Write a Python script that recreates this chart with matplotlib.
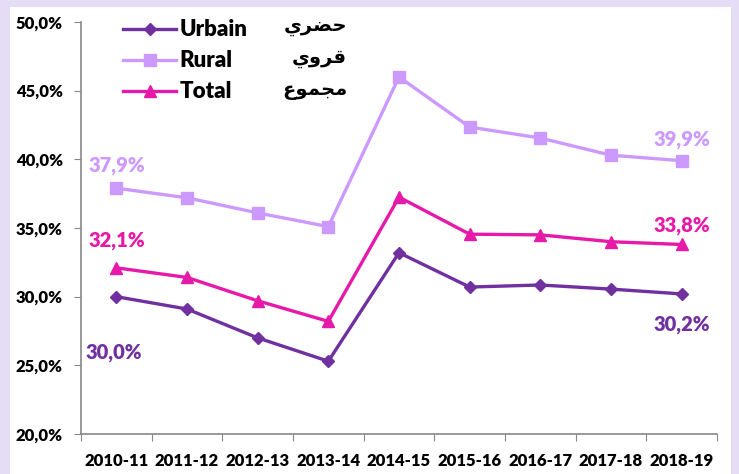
import matplotlib
matplotlib.use('Agg')
import matplotlib.pyplot as plt
from matplotlib.patches import Rectangle
from matplotlib.ticker import FuncFormatter, FixedLocator

years = ['2010-11', '2011-12', '2012-13', '2013-14', '2014-15',
         '2015-16', '2016-17', '2017-18', '2018-19']
urbain = [30.0, 29.1, 27.0, 25.3, 33.2, 30.7, 30.85, 30.55, 30.2]
rural = [37.9, 37.2, 36.1, 35.1, 46.0, 42.35, 41.55, 40.3, 39.9]
total = [32.1, 31.4, 29.7, 28.2, 37.25, 34.55, 34.5, 34.0, 33.8]

# arabic labels, pre-shaped (presentation forms, visual order)
ar_urbain = '\uFEF1\uFEAE\uFEC0\uFEA3'   # حضري
ar_rural = '\uFEF1\uFEED\uFEAE\uFED7'    # قروي
ar_total = '\uFEC9\uFEEE\uFEE4\uFEA0\uFEE3'  # مجموع

c_urb = '#7030a0'
c_rur = '#cc99ff'
c_tot = '#e619a8'

WT = 'heavy'
plt.rcParams['font.family'] = ['Lato', 'DejaVu Sans']
plt.rcParams['font.weight'] = WT

W, H = 739, 474
fig = plt.figure(figsize=(W / 100, H / 100), dpi=100)
fig.patch.set_facecolor('#e5dcf5')
fig.patches.append(Rectangle((10 / W, 0), 721 / W, 467 / H, transform=fig.transFigure,
                             facecolor='white', edgecolor='none', zorder=-10))

ax = fig.add_axes([81 / W, (H - 434) / H, (717 - 81) / W, (434 - 22) / H])
ax.set_facecolor('none')
x = list(range(len(years)))

ax.plot(x, urbain, color=c_urb, lw=2.4, marker='D', ms=6.5, label='Urbain')
ax.plot(x, rural, color=c_rur, lw=2.4, marker='s', ms=8, label='Rural')
ax.plot(x, total, color=c_tot, lw=2.4, marker='^', ms=8.5, label='Total')

ax.set_xlim(-0.5, len(years) - 0.5)
ax.set_ylim(20, 50)
ax.set_yticks(range(20, 51, 5))
ax.yaxis.set_major_formatter(FuncFormatter(lambda v, p: f'{v:.1f}%'.replace('.', ',')))
ax.xaxis.set_major_locator(FixedLocator([i - 0.5 for i in range(len(years) + 1)]))
ax.xaxis.set_minor_locator(FixedLocator(x))
ax.set_xticklabels([], minor=False)
ax.set_xticklabels(years, minor=True)
ax.tick_params(axis='x', which='minor', length=0, pad=14, labelsize=12)
ax.tick_params(axis='x', which='major', length=5, color='#888888')
ax.tick_params(axis='y', length=5, color='#888888', labelsize=12, pad=8)
for t in ax.get_xticklabels(minor=True) + ax.get_yticklabels():
    t.set_fontweight(WT)
for s in ['top', 'right']:
    ax.spines[s].set_visible(False)
for s in ['left', 'bottom']:
    ax.spines[s].set_color('#888888')
    ax.spines[s].set_linewidth(1.2)

fmt = lambda v: f'{v:.1f}%'.replace('.', ',')
lab = dict(textcoords='offset points', ha='center', va='center', fontsize=14.5, fontweight=WT)
ax.annotate(fmt(rural[0]), (0, rural[0]), xytext=(0, 16), color=c_rur, **lab)
ax.annotate(fmt(total[0]), (0, total[0]), xytext=(0, 20), color=c_tot, **lab)
ax.annotate(fmt(urbain[0]), (0, urbain[0]), xytext=(-2, -40), color=c_urb, **lab)
ax.annotate(fmt(rural[-1]), (8, rural[-1]), xytext=(0, 15), color=c_rur, **lab)
ax.annotate(fmt(total[-1]), (8, total[-1]), xytext=(0, 14), color=c_tot, **lab)
ax.annotate(fmt(urbain[-1]), (8, urbain[-1]), xytext=(0, -22), color=c_urb, **lab)

leg = ax.legend(loc='upper left', bbox_to_anchor=(22 / 636, 1.055), frameon=False,
                fontsize=16, handlelength=2.4, handletextpad=0.15, labelspacing=0.45)
for t in leg.get_texts():
    t.set_fontweight(WT)

for txt, yy in [(ar_urbain, 27), (ar_rural, 59), (ar_total, 90)]:
    fig.text(347 / W, 1 - yy / H, txt, ha='right', va='center', fontsize=14,
             fontweight='bold', family=['DejaVu Sans'])

fig.savefig('out.png', dpi=100)
